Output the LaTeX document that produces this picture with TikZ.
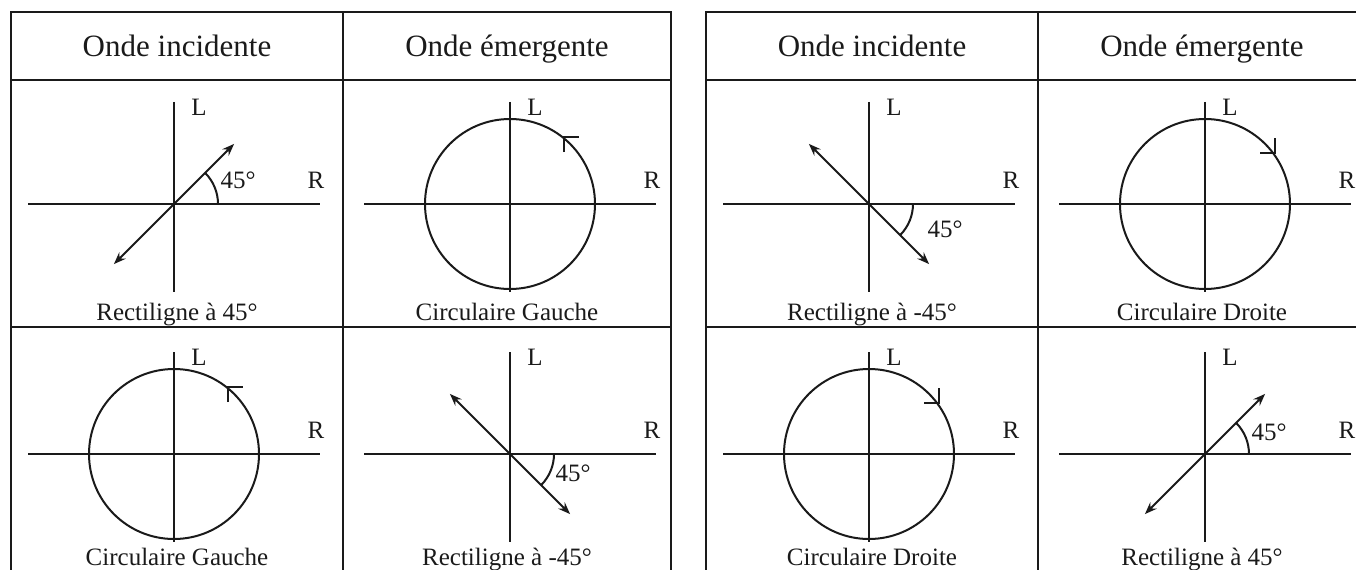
\documentclass[tikz,border=0pt]{standalone}
\usepackage{fontspec}
\setmainfont{Liberation Serif}
\usepackage{tikz}
\usetikzlibrary{calc,arrows.meta}
\definecolor{Trait}{HTML}{1A1A1A}

\tikzset{
	trait/.style={draw=Trait, line width=1pt},
	onde/.style={trait, {Stealth[length=6pt,width=4.5pt]}-{Stealth[length=6pt,width=4.5pt]}},
	titre/.style={font=\fontsize{15.5}{18}\selectfont, text=Trait, anchor=base, inner sep=0pt},
	legende/.style={font=\fontsize{12.5}{15}\selectfont, text=Trait, anchor=base, inner sep=0pt},
	lettre/.style={font=\fontsize{12.5}{15}\selectfont, text=Trait, inner sep=0pt},
}

\newcommand{\repere}[3]{
	\coordinate (#3) at (#1,#2);
	\draw[trait] ($(#3)+(0,102)$) -- ($(#3)+(0,-88)$);
	\draw[trait] ($(#3)+(-146,0)$) -- ($(#3)+(146,0)$);
	\node[lettre] (#3-L) at ($(#3)+(25,97)$) {L};
	\node[lettre] (#3-R) at ($(#3)+(142,24)$) {R};
}
\newcommand{\rectiligne}[2]{
	\draw[onde] ($(#1)+({#2+180}:85)$) -- ($(#1)+(#2:85)$);
	\draw[trait] ($(#1)+(44,0)$) arc[start angle=0, end angle=#2, radius=44];
}
\newcommand{\cercleG}[1]{
	\draw[trait] (#1) circle[radius=85];
	\coordinate (#1-m) at ($(#1)+(51:86)$);
	\draw[trait] ($(#1-m)+(0,-15)$) -- (#1-m) -- ++(15,0);
}
\newcommand{\cercleD}[1]{
	\draw[trait] (#1) circle[radius=85];
	\coordinate (#1-m) at ($(#1)+(36:86)$);
	\draw[trait] ($(#1-m)+(0,15)$) -- (#1-m) -- ++(-15,0);
}

\begin{document}
\begin{tikzpicture}[x=0.5pt, y=0.5pt]
	\useasboundingbox (0,0) rectangle (1356,569);
	\clip (0,0) rectangle (1356,569);
	
	% les deux tableaux
	\foreach \X/\t in {11/A, 706/B} {
		\draw[trait] (\X,-5) rectangle (\X+660,557);
		\draw[trait] (\X,489) -- (\X+660,489);
		\draw[trait] (\X,242) -- (\X+660,242);
		\draw[trait] (\X+332,-5) -- (\X+332,557);
		\node[titre] (\t-inc) at (\X+166,512) {Onde incidente};
		\node[titre] (\t-em) at (\X+496,512) {Onde émergente};
	}
	
	% tableau de gauche
	\repere{174}{365}{a1}
	\rectiligne{a1}{45}
	\node[lettre] (a1-deg) at ($(a1)+(64,24)$) {45°};
	\node[legende] (a1-leg) at (177,249) {Rectiligne à 45°};
	
	\repere{510}{365}{a2}
	\cercleG{a2}
	\node[legende] (a2-leg) at (507,249) {Circulaire Gauche};
	
	\repere{174}{115}{a3}
	\cercleG{a3}
	\node[legende] (a3-leg) at (177,4) {Circulaire Gauche};
	
	\repere{510}{115}{a4}
	\rectiligne{a4}{-45}
	\node[lettre] (a4-deg) at ($(a4)+(63,-19)$) {45°};
	\node[legende] (a4-leg) at (507,4) {Rectiligne à -45°};
	
	% tableau de droite
	\repere{869}{365}{b1}
	\rectiligne{b1}{-45}
	\node[lettre] (b1-deg) at ($(b1)+(76,-25)$) {45°};
	\node[legende] (b1-leg) at (872,249) {Rectiligne à -45°};
	
	\repere{1205}{365}{b2}
	\cercleD{b2}
	\node[legende] (b2-leg) at (1202,249) {Circulaire Droite};
	
	\repere{869}{115}{b3}
	\cercleD{b3}
	\node[legende] (b3-leg) at (872,4) {Circulaire Droite};
	
	\repere{1205}{115}{b4}
	\rectiligne{b4}{45}
	\node[lettre] (b4-deg) at ($(b4)+(64,22)$) {45°};
	\node[legende] (b4-leg) at (1202,4) {Rectiligne à 45°};
\end{tikzpicture}
\end{document}
